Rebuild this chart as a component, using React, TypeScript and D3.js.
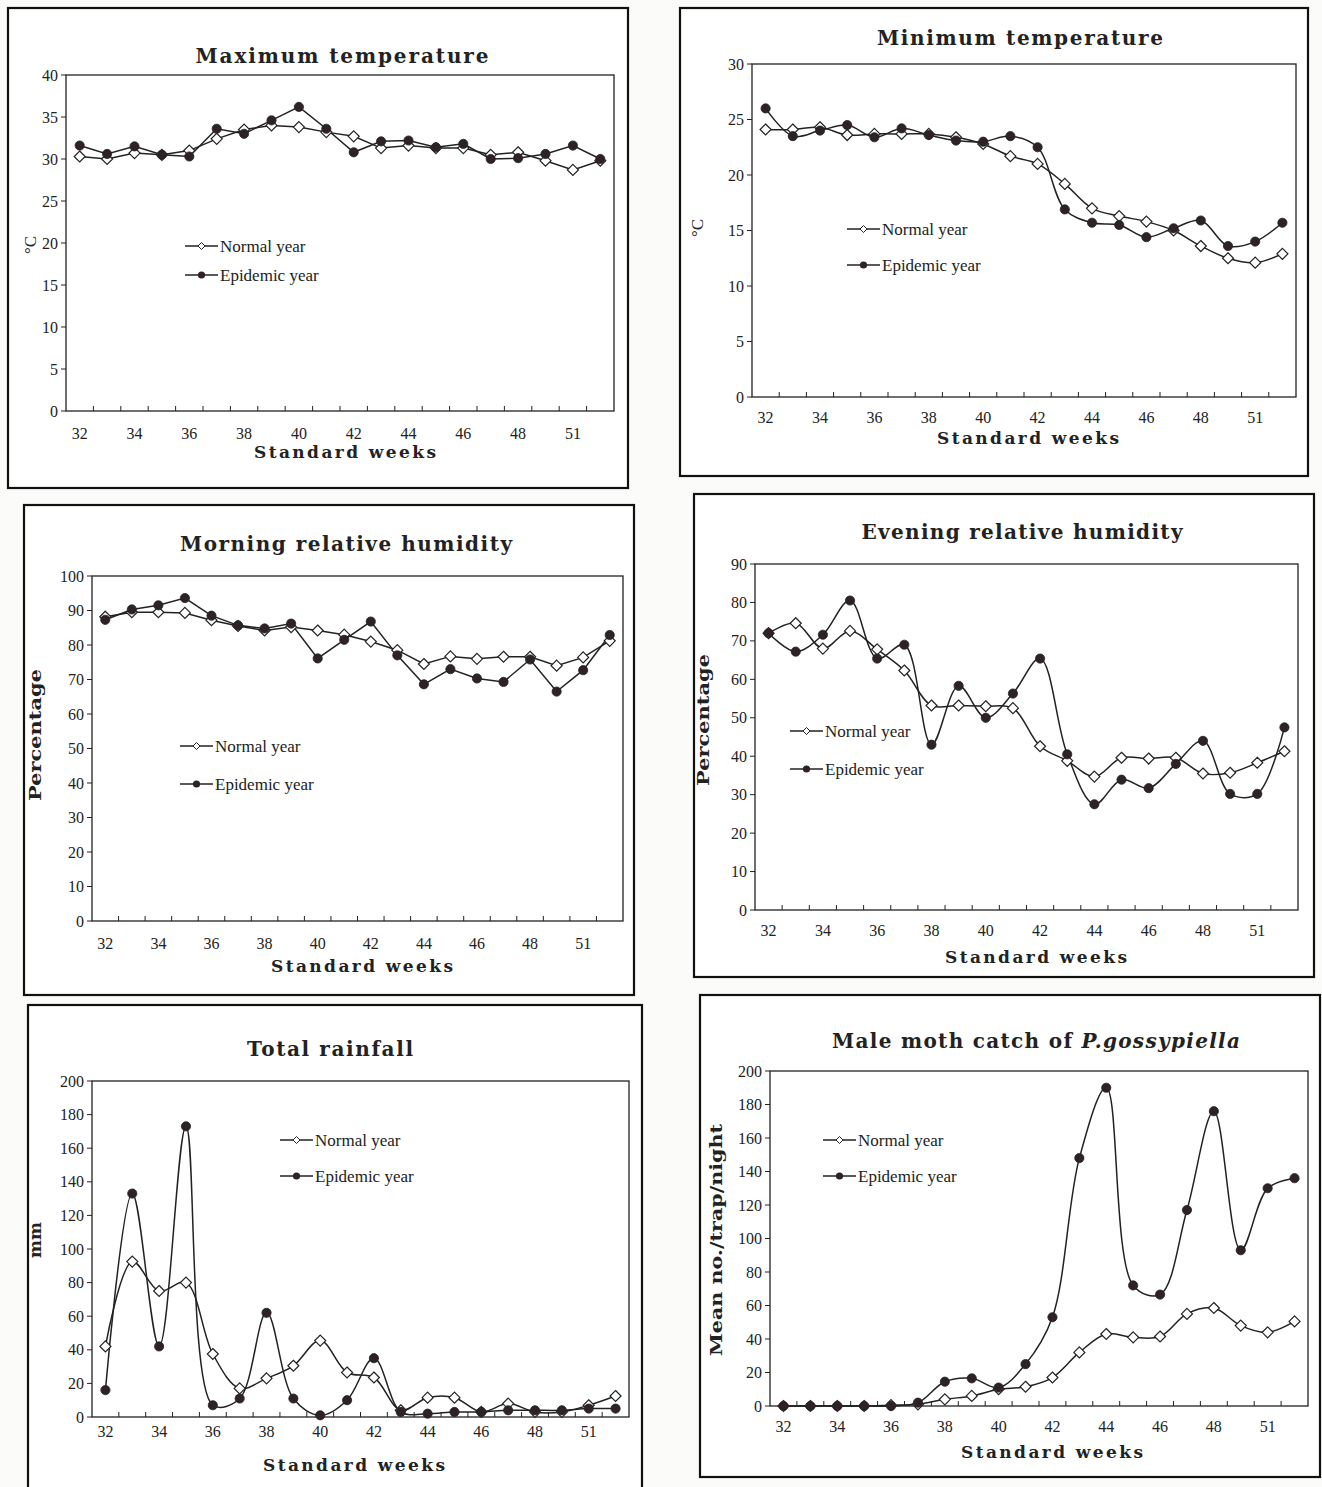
import React from 'react';
import * as d3 from 'd3';

const weeks = ['32','33','34','35','36','37','38','39','40','41','42','43','44','45','46','47','48','49','51','52'];
const weekTickLabels = ['32','34','36','38','40','42','44','46','48','51'];

const maxTempNormal = [30.3, 30.0, 30.7, 30.5, 31.0, 32.4, 33.5, 34.0, 33.8, 33.2, 32.7, 31.3, 31.6, 31.3, 31.3, 30.5, 30.8, 29.8, 28.7, 29.8];
const maxTempEpidemic = [31.6, 30.6, 31.5, 30.5, 30.3, 33.6, 33.0, 34.6, 36.2, 33.6, 30.8, 32.1, 32.2, 31.4, 31.8, 30.0, 30.1, 30.6, 31.6, 30.0];

const minTempNormal = [24.1, 24.1, 24.3, 23.6, 23.7, 23.7, 23.7, 23.4, 22.8, 21.7, 21.0, 19.2, 17.0, 16.3, 15.8, 15.0, 13.6, 12.5, 12.1, 12.9];
const minTempEpidemic = [26.0, 23.5, 24.0, 24.5, 23.4, 24.2, 23.6, 23.1, 23.0, 23.5, 22.5, 16.9, 15.7, 15.5, 14.4, 15.2, 15.9, 13.6, 14.0, 15.7];

const morningRhNormal = [88.2, 89.5, 89.5, 89.3, 87.2, 85.5, 84.2, 85.2, 84.2, 83.0, 81.0, 78.5, 74.5, 76.7, 76.0, 76.6, 76.6, 74.0, 76.4, 81.2];
const morningRhEpidemic = [87.3, 90.3, 91.5, 93.6, 88.5, 85.7, 84.8, 86.2, 76.1, 81.5, 86.8, 77.0, 68.6, 73.0, 70.3, 69.3, 75.8, 66.5, 72.7, 82.9];

const eveningRhNormal = [72.0, 74.6, 68.0, 72.6, 67.8, 62.3, 53.2, 53.2, 53.0, 52.5, 42.6, 38.8, 34.7, 39.6, 39.4, 39.6, 35.5, 35.7, 38.3, 41.3];
const eveningRhEpidemic = [72.0, 67.2, 71.6, 80.5, 65.4, 69.0, 43.0, 58.3, 50.0, 56.3, 65.4, 40.5, 27.5, 33.9, 31.7, 38.0, 44.0, 30.2, 30.2, 47.5];

const rainfallNormal = [42, 92.5, 75, 80, 37.5, 17, 23, 30.5, 45.5, 26.5, 23.5, 4, 11.5, 11.5, 3, 8, 3, 3, 7, 12.5];
const rainfallEpidemic = [16, 133, 42, 173, 7, 11, 62, 11, 1, 10, 35, 3, 2, 3, 3, 4, 4, 4, 5, 5];

const mothNormal = [0, 0, 0, 0, 0.5, 1, 4, 6, 10, 11.5, 17, 32, 43, 41, 41.5, 55, 58.5, 48, 44, 50.5];
const mothEpidemic = [0, 0, 0, 0, 0, 2, 14.5, 16.5, 11, 25, 53, 148, 190, 72, 66.5, 117, 176, 93, 130, 136];

const seriesNames = ['Normal year', 'Epidemic year'];

type Layout = {
  box: [number, number, number, number];
  plot: [number, number, number, number];
  yMax: number;
  yStep: number;
  smooth: boolean;
  title: string;
  italicPart?: string;
  titlePos: [number, number];
  titleLen: number;
  xLabelY: number;
  xTitlePos: [number, number];
  yTitle: string;
  yTitlePos: [number, number];
  yTitleLen: number;
  yTitleBold: boolean;
  legend: [number, number, number];
  normal: number[];
  epidemic: number[];
};

const panels: Layout[] = [
  {
    box: [8, 8, 620, 480], plot: [66, 75, 614, 411], yMax: 40, yStep: 5, smooth: false,
    title: 'Maximum temperature', titlePos: [342, 56], titleLen: 293,
    xLabelY: 433, xTitlePos: [345, 452],
    yTitle: '°C', yTitlePos: [30, 245], yTitleLen: 0, yTitleBold: false,
    legend: [185, 246, 275], normal: maxTempNormal, epidemic: maxTempEpidemic,
  },
  {
    box: [680, 8, 628, 468], plot: [752, 64, 1296, 397], yMax: 30, yStep: 5, smooth: true,
    title: 'Minimum temperature', titlePos: [1020, 38], titleLen: 286,
    xLabelY: 417, xTitlePos: [1028, 438],
    yTitle: '°C', yTitlePos: [697, 228], yTitleLen: 0, yTitleBold: false,
    legend: [847, 229, 265], normal: minTempNormal, epidemic: minTempEpidemic,
  },
  {
    box: [24, 505, 610, 490], plot: [92, 576, 623, 921], yMax: 100, yStep: 10, smooth: false,
    title: 'Morning relative humidity', titlePos: [346, 544], titleLen: 332,
    xLabelY: 943, xTitlePos: [362, 966],
    yTitle: 'Percentage', yTitlePos: [35, 735], yTitleLen: 132, yTitleBold: true,
    legend: [180, 746, 784], normal: morningRhNormal, epidemic: morningRhEpidemic,
  },
  {
    box: [694, 494, 620, 483], plot: [755, 564, 1298, 910], yMax: 90, yStep: 10, smooth: true,
    title: 'Evening relative humidity', titlePos: [1022, 532], titleLen: 321,
    xLabelY: 930, xTitlePos: [1036, 957],
    yTitle: 'Percentage', yTitlePos: [703, 720], yTitleLen: 132, yTitleBold: true,
    legend: [790, 731, 769], normal: eveningRhNormal, epidemic: eveningRhEpidemic,
  },
  {
    box: [28, 1005, 614, 492], plot: [92, 1081, 629, 1417], yMax: 200, yStep: 20, smooth: true,
    title: 'Total rainfall', titlePos: [330, 1049], titleLen: 166,
    xLabelY: 1431, xTitlePos: [354, 1465],
    yTitle: 'mm', yTitlePos: [35, 1240], yTitleLen: 0, yTitleBold: true,
    legend: [280, 1140, 1176], normal: rainfallNormal, epidemic: rainfallEpidemic,
  },
  {
    box: [700, 995, 620, 482], plot: [770, 1071, 1308, 1406], yMax: 200, yStep: 20, smooth: true,
    title: 'Male moth catch of ', italicPart: 'P.gossypiella', titlePos: [1036, 1041], titleLen: 408,
    xLabelY: 1426, xTitlePos: [1052, 1452],
    yTitle: 'Mean no./trap/night', yTitlePos: [716, 1240], yTitleLen: 232, yTitleBold: true,
    legend: [823, 1140, 1176], normal: mothNormal, epidemic: mothEpidemic,
  },
];

const INK = '#222';
const DOT = '#2e2226';
const SERIF = '"Liberation Serif", "Times New Roman", serif';
const BOLD_SERIF = '"DejaVu Serif", serif';

const diamondPath = 'M0,-5.5L5.5,0L0,5.5L-5.5,0Z';

function Marker({ kind, x, y }: { kind: 'n' | 'e'; x: number; y: number }) {
  if (kind === 'n') {
    return <path d={diamondPath} transform={`translate(${x},${y})`} fill="#fff" stroke={INK} strokeWidth={1.2} />;
  }
  return <circle cx={x} cy={y} r={4.6} fill={DOT} stroke={INK} strokeWidth={0.8} />;
}

function Panel({ p }: { p: Layout }) {
  const [x0, y0, x1, y1] = p.plot;
  const x = d3.scaleBand<string>().domain(weeks).range([x0, x1]).padding(0);
  const y = d3.scaleLinear().domain([0, p.yMax]).range([y1, y0]);
  const cx = (i: number) => (x(weeks[i]) as number) + x.bandwidth() / 2;
  const curve = p.smooth ? d3.curveCatmullRom.alpha(0.5) : d3.curveLinear;
  const line = d3.line<number>().x((_, i) => cx(i)).y((d) => y(d)).curve(curve);
  const yTicks = d3.range(0, p.yMax + 0.001, p.yStep);
  const boundaries = weeks.map((w) => x(w) as number).slice(1);
  const [lx, ly1, ly2] = p.legend;
  const [bx, by, bw, bh] = p.box;

  return (
    <g>
      <rect x={bx} y={by} width={bw} height={bh} fill="#fff" stroke="#111" strokeWidth={2.2} />
      <text
        x={p.titlePos[0]} y={p.titlePos[1]} dy="0.35em" textAnchor="middle"
        fontFamily={BOLD_SERIF} fontWeight="bold" fontSize={20} fill={INK}
        textLength={p.titleLen} lengthAdjust="spacing"
      >
        {p.title}
        {p.italicPart ? <tspan fontStyle="italic">{p.italicPart}</tspan> : null}
      </text>
      <rect x={x0} y={y0} width={x1 - x0} height={y1 - y0} fill="none" stroke={INK} strokeWidth={1.3} />
      {yTicks.map((t) => (
        <g key={t}>
          <line x1={x0 - 5} x2={x0} y1={y(t)} y2={y(t)} stroke={INK} strokeWidth={1} />
          <text x={x0 - 8} y={y(t)} dy="0.35em" textAnchor="end" fontFamily={SERIF} fontSize={16} fill={INK}>
            {t}
          </text>
        </g>
      ))}
      {boundaries.map((b, i) => (
        <line key={i} x1={b} x2={b} y1={y1} y2={y1 - 5} stroke={INK} strokeWidth={1} />
      ))}
      {weeks.map((w, i) =>
        weekTickLabels.includes(w) && i % 2 === 0 ? (
          <text key={w} x={cx(i)} y={p.xLabelY} dy="0.35em" textAnchor="middle" fontFamily={SERIF} fontSize={16} fill={INK}>
            {w}
          </text>
        ) : null
      )}
      <text
        x={p.xTitlePos[0]} y={p.xTitlePos[1]} dy="0.35em" textAnchor="middle"
        fontFamily={BOLD_SERIF} fontWeight="bold" fontSize={17} fill={INK}
        textLength={182} lengthAdjust="spacing"
      >
        Standard weeks
      </text>
      <text
        transform={`translate(${p.yTitlePos[0]},${p.yTitlePos[1]}) rotate(-90)`}
        dy="0.35em" textAnchor="middle"
        fontFamily={p.yTitleBold ? BOLD_SERIF : SERIF} fontWeight={p.yTitleBold ? 'bold' : 'normal'}
        fontSize={p.yTitleBold ? 17 : 17} fill={INK}
        {...(p.yTitleLen ? { textLength: p.yTitleLen, lengthAdjust: 'spacingAndGlyphs' } : {})}
      >
        {p.yTitle}
      </text>
      <path d={line(p.normal) || ''} fill="none" stroke={INK} strokeWidth={1.5} />
      <path d={line(p.epidemic) || ''} fill="none" stroke={INK} strokeWidth={1.5} />
      {p.normal.map((v, i) => <Marker key={`n${i}`} kind="n" x={cx(i)} y={y(v)} />)}
      {p.epidemic.map((v, i) => <Marker key={`e${i}`} kind="e" x={cx(i)} y={y(v)} />)}
      {[ly1, ly2].map((ly, k) => (
        <g key={k}>
          <line x1={lx} x2={lx + 33} y1={ly} y2={ly} stroke={INK} strokeWidth={1.5} />
          {k === 0 ? (
            <path d="M0,-3.5L3.5,0L0,3.5L-3.5,0Z" transform={`translate(${lx + 16.5},${ly})`} fill="#fff" stroke={INK} strokeWidth={1} />
          ) : (
            <circle cx={lx + 16.5} cy={ly} r={3.6} fill={DOT} />
          )}
          <text x={lx + 35} y={ly} dy="0.35em" fontFamily={SERIF} fontSize={17} fill={INK}>
            {seriesNames[k]}
          </text>
        </g>
      ))}
    </g>
  );
}

export default function App() {
  return (
    <svg
      width={1322}
      height={1487}
      viewBox="0 0 1322 1487"
      style={{ position: 'absolute', left: 0, top: 0, display: 'block', background: '#fff' }}
    >
      <rect x={0} y={0} width={1322} height={1487} fill="#fbfbfa" />
      {panels.map((p, i) => (
        <Panel key={i} p={p} />
      ))}
    </svg>
  );
}
